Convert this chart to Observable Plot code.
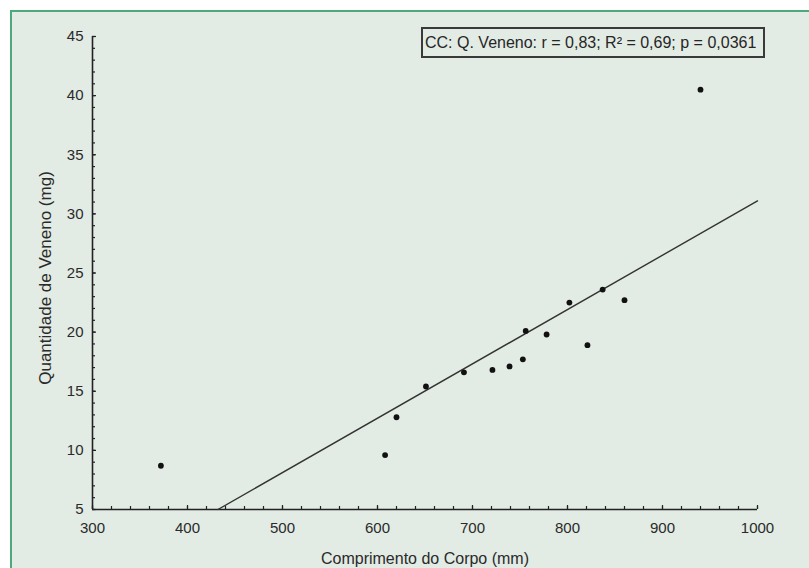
<!DOCTYPE html>
<html>
<head>
<meta charset="utf-8">
<script src="https://cdn.jsdelivr.net/npm/d3@7"></script>
<script src="https://cdn.jsdelivr.net/npm/@observablehq/plot@0.6"></script>
<style>
  html, body { margin: 0; padding: 0; background: #ffffff; }
  #wrap { position: relative; width: 809px; height: 568px; overflow: hidden; background: #ffffff; }
  #panel { position: absolute; left: 10px; top: 10px; right: 0; bottom: 0;
           background: #e2ebe4; border-top: 2px solid #4caa7c; border-left: 2px solid #4caa7c; }
  #chart { position: absolute; left: 0; top: 0; }
  #legend { position: absolute; left: 421px; top: 27px; width: 338px; height: 27px;
            border: 2px solid #3a3a3a; font-family: "Liberation Sans", Arial, sans-serif;
            font-size: 16px; line-height: 27px; color: #262626; padding-left: 2px; white-space: nowrap; }
</style>
</head>
<body>
<div id="wrap">
  <div id="panel"></div>
  <div id="chart"></div>
  <div id="legend">CC: Q. Veneno: r = 0,83; R² = 0,69; p = 0,0361</div>
</div>
<script>
// Data
const bodyLength = [372, 608, 620, 651, 691, 721, 739, 753, 756, 778, 802, 821, 837, 860, 940];
const venom      = [8.7, 9.6, 12.8, 15.4, 16.6, 16.8, 17.1, 17.7, 20.1, 19.8, 22.5, 18.9, 23.6, 22.7, 40.5];
// Fitted regression line endpoints (as drawn)
const fitX = [432, 1000];
const fitY = [5, 31.1];
// Ticks
const xMajor = [300, 400, 500, 600, 700, 800, 900, 1000];
const yMajor = [5, 10, 15, 20, 25, 30, 35, 40, 45];
const xMinor = d3.range(300, 1001, 20);
const yMinor = d3.range(5, 46, 1);
const xLabel = "Comprimento do Corpo (mm)";
const yLabel = "Quantidade de Veneno (mg)";

const points = bodyLength.map((x, i) => ({x, y: venom[i]}));
const fit = fitX.map((x, i) => ({x, y: fitY[i]}));

const ink = "#222";
const textInk = "#2a2a2a";
const chart = Plot.plot({
  width: 809,
  height: 568,
  marginLeft: 92,
  marginRight: 52,
  marginTop: 36,
  marginBottom: 59,
  style: {background: "transparent", fontFamily: "'Liberation Sans', Arial, sans-serif", fontSize: "15px", color: textInk},
  x: {domain: [300, 1000]},
  y: {domain: [5, 45]},
  marks: [
    // inward minor ticks
    Plot.axisX(xMinor, {anchor: "bottom", tickSize: -3, text: null, label: null, stroke: ink, strokeWidth: 1.2}),
    Plot.axisY(yMinor, {anchor: "left", tickSize: -3, text: null, label: null, stroke: ink, strokeWidth: 1.2}),
    Plot.axisX(xMajor, {anchor: "bottom", tickSize: -4, text: null, label: null, stroke: ink, strokeWidth: 1.2}),
    Plot.axisY(yMajor, {anchor: "left", tickSize: -4, text: null, label: null, stroke: ink, strokeWidth: 1.2}),
    // tick labels
    Plot.axisX(xMajor, {anchor: "bottom", tickSize: 0, tickPadding: 13, tickFormat: d => String(d), label: null, fontSize: 15, fill: textInk}),
    Plot.axisY(yMajor, {anchor: "left", tickSize: 0, tickPadding: 9, tickFormat: d => String(d), label: null, fontSize: 15, fill: textInk}),
    // axis titles
    Plot.text([xLabel], {frameAnchor: "bottom", dy: 49, lineAnchor: "middle", fontSize: 16, fill: textInk}),
    Plot.text([yLabel], {frameAnchor: "left", textAnchor: "middle", dx: -47, dy: 5, rotate: -90, lineAnchor: "middle", fontSize: 17, fill: textInk}),
    // axis lines
    Plot.ruleY([5], {stroke: ink, strokeWidth: 1.6}),
    Plot.ruleX([300], {stroke: ink, strokeWidth: 1.6}),
    // regression line
    Plot.line(fit, {x: "x", y: "y", stroke: "#333", strokeWidth: 1.4}),
    // points
    Plot.dot(points, {x: "x", y: "y", r: 2.9, fill: "#111", stroke: "none"})
  ]
});
document.getElementById("chart").appendChild(chart);
</script>
</body>
</html>
